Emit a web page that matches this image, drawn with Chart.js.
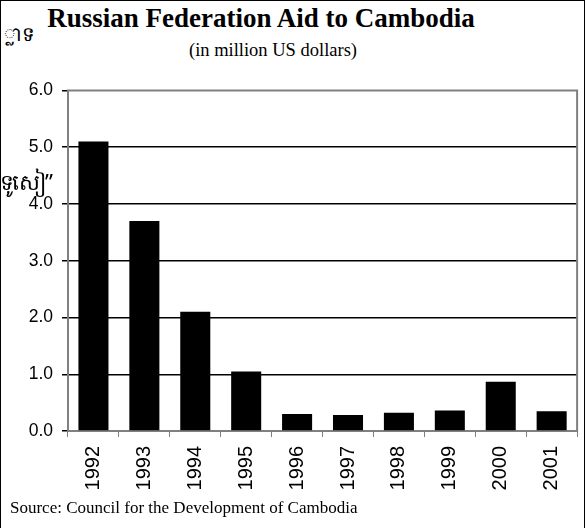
<!DOCTYPE html>
<html>
<head>
<meta charset="utf-8">
<script src="https://cdn.jsdelivr.net/npm/chart.js@4/dist/chart.umd.min.js"></script>
<style>
  html, body { margin:0; padding:0; background:#fff; }
  body { width:585px; height:528px; position:relative; overflow:hidden; }
  .frame { position:absolute; left:0; top:0; width:583px; height:540px; border:1px solid #000; }
  .title { position:absolute; left:0; top:3px; width:522px; text-align:center; font:bold 27px "Liberation Serif", "Times New Roman", serif; }
  .sub { position:absolute; left:0; top:40px; width:546px; text-align:center; font:18.5px "Liberation Serif", "Times New Roman", serif; }
  .km1 { position:absolute; left:4px; top:20px; font:20px "Noto Sans", sans-serif; }
  .km2 { position:absolute; left:0px; top:166px; font:22px "Noto Sans", sans-serif; letter-spacing:-2px; }
  .src { position:absolute; left:10px; top:498px; font:17px "Liberation Serif", "Times New Roman", serif; }
  #wrap { position:absolute; left:0; top:71px; width:585px; height:457px; }
</style>
</head>
<body>
<div class="frame"></div>
<div class="km1">្លាទ</div>
<div class="title">Russian Federation Aid to Cambodia</div>
<div class="sub">(in million US dollars)</div>
<div id="wrap"><canvas id="c"></canvas></div>
<div class="km2">ទូសៀ”</div>
<div class="src">Source: Council for the Development of Cambodia</div>
<script>
// data
const years = ['1992','1993','1994','1995','1996','1997','1998','1999','2000','2001'];
const aid = [5.1, 3.7, 2.1, 1.05, 0.3, 0.28, 0.32, 0.36, 0.87, 0.35];
const yTicks = [0, 1, 2, 3, 4, 5, 6];

// grey box around the plot area
const plotBox = {
    id: 'plotBox',
    beforeDatasetsDraw(chart){
        const a = chart.chartArea, ctx = chart.ctx;
        ctx.save();
        ctx.strokeStyle = '#808080';
        ctx.lineWidth = 2;
        ctx.strokeRect(a.left, a.top, a.right - a.left, a.bottom - a.top);
        ctx.restore();
    }
};

new Chart(document.getElementById('c'), {
    type: 'bar',
    data: {
        labels: years,
        datasets: [{
            data: aid,
            backgroundColor: '#000',
            borderWidth: 0,
            barPercentage: 0.59,
            categoryPercentage: 1
        }]
    },
    options: {
        responsive: true,
        maintainAspectRatio: false,
        animation: false,
        layout: { padding: { left: 0, right: 7, top: 1, bottom: 0 } },
        plugins: { legend: { display: false }, tooltip: { enabled: false } },
        scales: {
            x: {
                offset: true,
                grid: { offset: true, drawOnChartArea: false, tickLength: 6, color: '#808080' },
                border: { display: false },
                ticks: {
                    color: '#000', minRotation: 90, maxRotation: 90, padding: 9,
                    font: { family: 'Liberation Sans, Arial', size: 20 }
                },
                afterFit(s){ s.height = 97; }
            },
            y: {
                min: 0, max: 6,
                afterBuildTicks(s){ s.ticks = yTicks.map(v => ({ value: v })); },
                grid: {
                    tickLength: 6,
                    tickColor: '#000',
                    lineWidth: 1.5,
                    color: c => (c.tick && c.tick.value > 0 && c.tick.value < 6) ? '#000' : 'rgba(0,0,0,0)'
                },
                border: { display: false },
                ticks: {
                    color: '#000', padding: 9,
                    callback: v => Number(v).toFixed(1),
                    font: { family: 'Liberation Sans, Arial', size: 17.5 }
                },
                afterFit(s){ s.width = 68; }
            }
        }
    },
    plugins: [plotBox]
});
</script>
</body>
</html>
